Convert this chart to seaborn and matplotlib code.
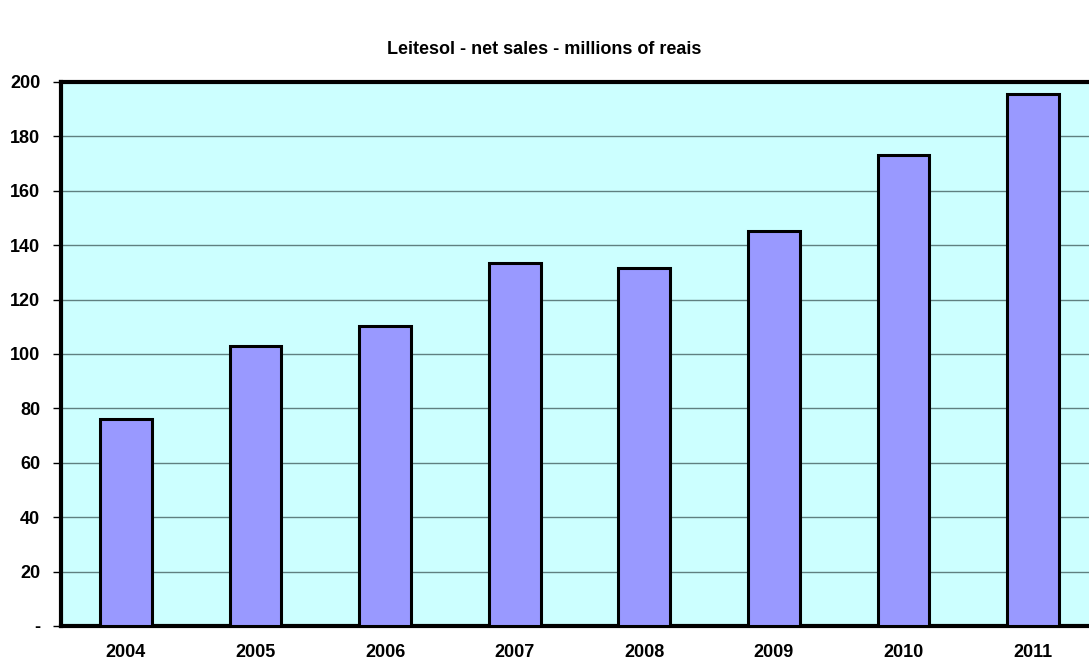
import matplotlib
matplotlib.use("Agg")
import matplotlib.pyplot as plt
import seaborn as sns
import pandas as pd

years = ["2004", "2005", "2006", "2007", "2008", "2009", "2010", "2011"]
sales = [76.1, 102.9, 110.3, 133.5, 131.6, 145.2, 173.2, 195.6]
yticks = [0, 20, 40, 60, 80, 100, 120, 140, 160, 180, 200]
ylabels = ["-"] + [str(v) for v in yticks[1:]]

sns.set_theme(style="white")
plt.rcParams['font.family'] = ['Liberation Sans', 'DejaVu Sans']
plt.rcParams['text.color'] = 'black'
plt.rcParams['xtick.color'] = 'black'
plt.rcParams['ytick.color'] = 'black'

df = pd.DataFrame({"year": years, "sales": sales})

fig = plt.figure(figsize=(10.89, 6.61), dpi=100)
ax = fig.add_axes([61/1089, 1 - 626/661, (1098 - 61)/1089, (626 - 82)/661])
ax.set_facecolor("#CCFFFF")

sns.barplot(data=df, x="year", y="sales", color="#9999FF", width=0.4,
            edgecolor="black", linewidth=2.2, saturation=1, ax=ax, zorder=3)

ax.set_ylim(0, 200)
ax.set_xlim(-0.5, len(years) - 0.5)
ax.set_yticks(yticks)
ax.set_yticklabels(ylabels, fontsize=13, fontweight="bold", color="black")
ax.set_xticks(range(len(years)))
ax.set_xticklabels(years, fontsize=13, fontweight="bold", color="black")
ax.set_xlabel("")
ax.set_ylabel("")
ax.yaxis.grid(True, color="#5F8080", linewidth=1.0, zorder=1)
ax.set_axisbelow(True)

# boundary ticks on x axis
ax.set_xticks([i - 0.5 for i in range(len(years) + 1)], minor=True)
ax.tick_params(axis="x", which="major", length=0, pad=13)
ax.tick_params(axis="x", which="minor", length=6, width=1, color="black", direction="out")
ax.tick_params(axis="y", which="major", length=6, width=1, color="black", direction="out", pad=9, left=True)

for s in ["left", "top", "bottom", "right"]:
    ax.spines[s].set_color("black")
    ax.spines[s].set_linewidth(3)
    ax.spines[s].set_visible(True)

fig.text(0.5, 1 - 50/661, "Leitesol - net sales - millions of reais",
         ha="center", va="center", fontsize=13, fontweight="bold", color="black")

fig.savefig("out.png", dpi=100)
